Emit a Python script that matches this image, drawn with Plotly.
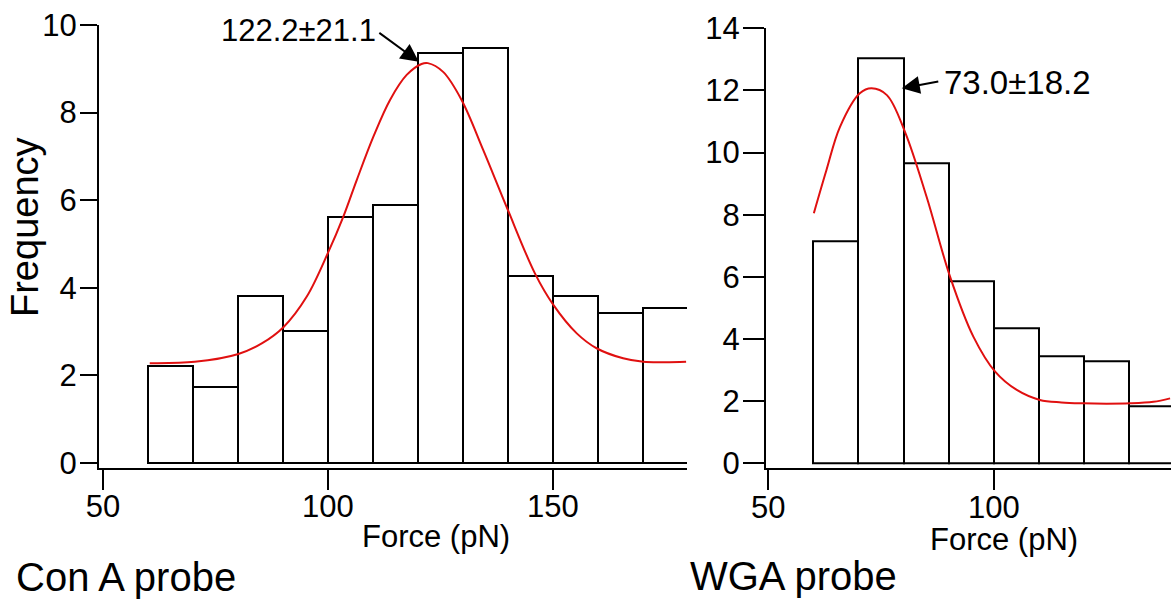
import plotly.graph_objects as go

FONT = "Liberation Sans, Arial, Helvetica, sans-serif"
W, H = 1171, 599

# ---------------- data ----------------
bin_width = 10

cona_bin_starts = [60, 70, 80, 90, 100, 110, 120, 130, 140, 150, 160, 170]
cona_counts = [2.21, 1.73, 3.81, 3.02, 5.61, 5.88, 9.37, 9.47, 4.26, 3.81, 3.42, 3.53]
cona_fit_x = [60.4, 70.4, 80.1, 85.3, 90.1, 95.3, 100.1, 103.4, 106.4, 110.1, 113.8,
              117.5, 120.8, 122.2, 125.6, 129.7, 134.5, 139.7, 146.0, 150.1, 155.3,
              159.7, 165.6, 170.1, 175.0, 179.6]
cona_fit_y = [2.28, 2.31, 2.49, 2.73, 3.10, 3.80, 4.82, 5.62, 6.46, 7.45, 8.29,
              8.86, 9.11, 9.13, 8.93, 8.29, 7.15, 5.85, 4.33, 3.61, 2.96,
              2.62, 2.39, 2.31, 2.30, 2.31]

wga_bin_starts = [60, 70, 80, 90, 100, 110, 120, 130]
wga_counts = [7.13, 13.05, 9.66, 5.85, 4.35, 3.43, 3.27, 1.82]
wga_fit_x = [60.1, 62.9, 65.9, 70.3, 72.9, 76.3, 80.3, 85.1, 90.3, 95.5, 100.3,
             105.1, 110.2, 115.0, 119.8, 125.0, 130.2, 135.4, 139.1]
wga_fit_y = [8.05, 9.44, 10.83, 11.91, 12.07, 11.85, 10.67, 8.58, 6.01, 4.07, 2.95,
             2.36, 2.04, 1.96, 1.93, 1.92, 1.93, 1.98, 2.09]

cona_label = "122.2±21.1"
wga_label = "73.0±18.2"
cona_arrow_tip = (120.2, 9.16)
wga_arrow_tip = (79.6, 12.07)

x_title = "Force (pN)"
y_title = "Frequency"
panel_titles = ["Con A probe", "WGA probe"]


def px_x(p):
    return p / W


def px_y(p):
    return 1 - p / H


fig = go.Figure()

cona_centers = [s + bin_width / 2 for s in cona_bin_starts]
wga_centers = [s + bin_width / 2 for s in wga_bin_starts]

bar_style = dict(marker=dict(color="white", line=dict(color="black", width=2)),
                 width=bin_width, showlegend=False, hoverinfo="skip")

fig.add_trace(go.Bar(x=cona_centers, y=cona_counts, xaxis="x", yaxis="y", **bar_style))
fig.add_trace(go.Bar(x=wga_centers, y=wga_counts, xaxis="x2", yaxis="y2", **bar_style))

line_style = dict(mode="lines", line=dict(color="#e01010", width=2, shape="spline"),
                  showlegend=False, hoverinfo="skip")
fig.add_trace(go.Scatter(x=cona_fit_x, y=cona_fit_y, xaxis="x", yaxis="y", **line_style))
fig.add_trace(go.Scatter(x=wga_fit_x, y=wga_fit_y, xaxis="x2", yaxis="y2", **line_style))

tickfont = dict(family=FONT, size=31, color="black")
axis_common = dict(showline=True, linecolor="black", linewidth=2, ticks="outside",
                   tickcolor="black", tickwidth=2, showgrid=False, zeroline=False,
                   tickfont=tickfont, mirror=False, automargin=False)

fig.update_layout(
    width=W, height=H,
    margin=dict(l=0, r=0, t=0, b=0),
    paper_bgcolor="white", plot_bgcolor="white",
    bargap=0,
    xaxis=dict(domain=[px_x(99), px_x(687)], range=[49.12, 179.8], tickvals=[50, 100, 150],
               ticklen=20, ticklabelstandoff=-10, anchor="y", **axis_common),
    yaxis=dict(domain=[px_y(468), px_y(25)], range=[-0.114, 10], tickvals=[0, 2, 4, 6, 8, 10],
               ticklen=17, ticklabelstandoff=-3, anchor="x", **axis_common),
    xaxis2=dict(domain=[px_x(766), 1.0], range=[49.49, 139.3], tickvals=[50, 100],
                ticklen=20, ticklabelstandoff=-10, anchor="y2", **axis_common),
    yaxis2=dict(domain=[px_y(468.3), px_y(28.3)], range=[-0.161, 14],
                tickvals=[0, 2, 4, 6, 8, 10, 12, 14], ticklen=21, ticklabelstandoff=-3,
                anchor="x2", **axis_common),
)

arrow_style = dict(showarrow=True, arrowhead=2, arrowsize=1.8, arrowwidth=2,
                   arrowcolor="black", text="")
annotations = [
    dict(x=cona_arrow_tip[0], y=cona_arrow_tip[1], xref="x", yref="y",
         ax=-41, ay=-30, **arrow_style),
    dict(x=wga_arrow_tip[0], y=wga_arrow_tip[1], xref="x2", yref="y2",
         ax=38, ay=-7, **arrow_style),
    dict(x=px_x(298.3), y=px_y(30.5), xref="paper", yref="paper", text=cona_label,
         showarrow=False, xanchor="center", yanchor="middle",
         font=dict(family=FONT, size=31, color="black")),
    dict(x=px_x(1017.5), y=px_y(82.5), xref="paper", yref="paper", text=wga_label,
         showarrow=False, xanchor="center", yanchor="middle",
         font=dict(family=FONT, size=33, color="black")),
    dict(x=px_x(436), y=px_y(536), xref="paper", yref="paper", text=x_title,
         showarrow=False, xanchor="center", yanchor="middle",
         font=dict(family=FONT, size=31, color="black")),
    dict(x=px_x(1004), y=px_y(539), xref="paper", yref="paper", text=x_title,
         showarrow=False, xanchor="center", yanchor="middle",
         font=dict(family=FONT, size=31, color="black")),
    dict(x=px_x(25), y=px_y(227), xref="paper", yref="paper", text=y_title,
         showarrow=False, xanchor="center", yanchor="middle", textangle=-90,
         font=dict(family=FONT, size=38, color="black")),
    dict(x=px_x(14), y=px_y(577), xref="paper", yref="paper", text=panel_titles[0],
         showarrow=False, xanchor="left", yanchor="middle",
         font=dict(family=FONT, size=40, color="black")),
    dict(x=px_x(688), y=px_y(576), xref="paper", yref="paper", text=panel_titles[1],
         showarrow=False, xanchor="left", yanchor="middle",
         font=dict(family=FONT, size=40, color="black")),
]
fig.update_layout(annotations=annotations)

fig.write_html("out.html")
